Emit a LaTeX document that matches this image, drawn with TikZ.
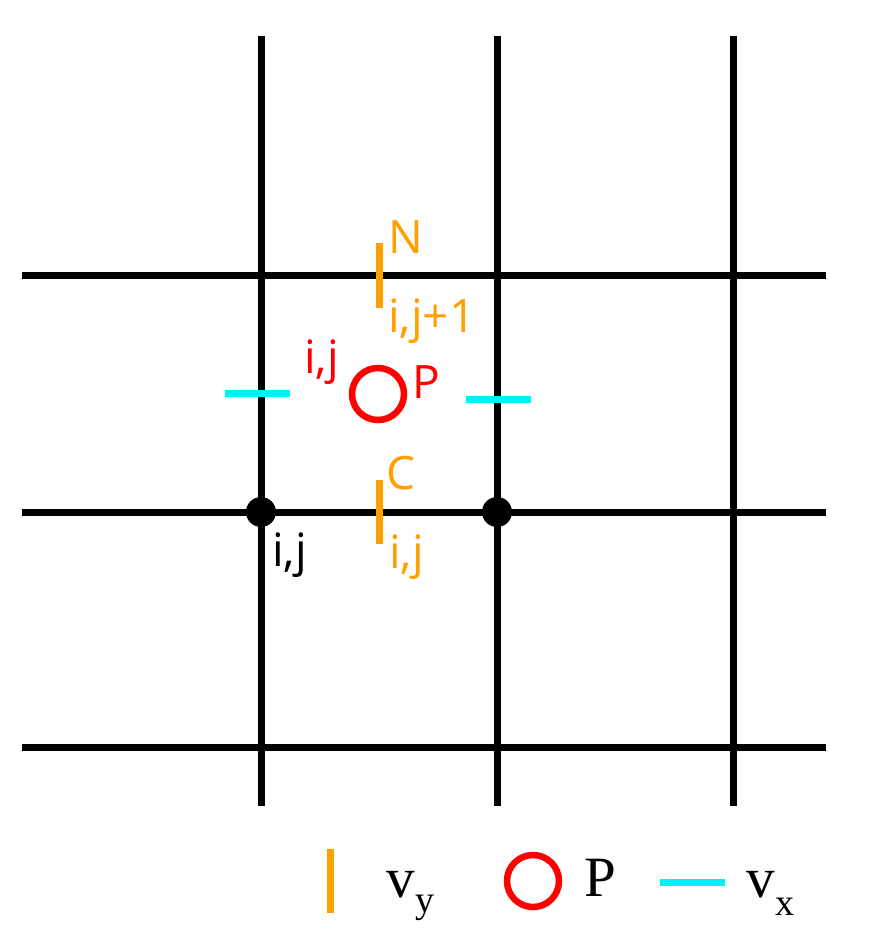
\documentclass[tikz,border=0pt]{standalone}
\usepackage{fontspec}
\setmainfont{Liberation Serif}
\newfontfamily\lab{Open Sans}
\definecolor{vyorange}{HTML}{FF9F00}
\definecolor{vxcyan}{HTML}{00F0F8}
\definecolor{pred}{HTML}{FF0000}
\begin{document}
\begin{tikzpicture}[x=1pt,y=-1pt,
  grid/.style={line width=7pt,black},
  vybar/.style={line width=7pt,vyorange},
  vxbar/.style={line width=7pt,vxcyan},
  pcirc/.style={circle,draw=pred,line width=6.5pt,minimum size=52pt,inner sep=0pt},
  lbl/.style={inner sep=0pt,font=\lab\fontsize{46}{52}\selectfont},
  leg/.style={inner sep=0pt,font=\fontsize{57}{62}\selectfont},
  legsub/.style={inner sep=0pt,font=\fontsize{38}{42}\selectfont}]
\useasboundingbox (0,0) rectangle (872,947);
% grid
\foreach \x in {261,497,733} \draw[grid] (\x,36) -- (\x,806);
\foreach \y in {275,512,747} \draw[grid] (22,\y) -- (826,\y);
% nodes (black dots)
\fill (261,512) circle (15);
\fill (497,512) circle (15);
\node[lbl,anchor=base west,black] (nij) at (272,566) {i,j};
% v_y N
\coordinate (n1) at (379,243); \coordinate (n2) at (379,308);
\draw[vybar] (n1) -- (n2);
\node[lbl,anchor=base west,text=vyorange] (Nt) at (388,253) {N};
\node[lbl,anchor=base west,text=vyorange] (Ns) at (388,332) {i,j+1};
% v_y C
\coordinate (c1) at (379,480); \coordinate (c2) at (379,544);
\draw[vybar] (c1) -- (c2);
\node[lbl,anchor=base west,text=vyorange] (Ct) at (386,489) {C};
\node[lbl,anchor=base west,text=vyorange] (Cs) at (389,568) {i,j};
% P
\node[pcirc] (P) at (378,394) {};
\node[lbl,anchor=base west,text=pred] (Pt) at (412,398) {P};
\node[lbl,anchor=base west,text=pred] (Ps) at (304,373) {i,j};
% v_x
\coordinate (w1) at (225,393); \coordinate (w2) at (290,393);
\draw[vxbar] (w1) -- (w2);
\coordinate (e1) at (466,399); \coordinate (e2) at (531,399);
\draw[vxbar] (e1) -- (e2);
% legend
\coordinate (l1) at (330,849); \coordinate (l2) at (330,913);
\draw[vybar] (l1) -- (l2);
\node[leg,anchor=base west] (lvy) at (386,897) {v};
\node[legsub,anchor=base west] (lvys) at (415,912) {y};
\node[pcirc] (lP) at (533,881) {};
\node[leg,anchor=base west] (lPt) at (584,896) {P};
\coordinate (x1) at (660,882); \coordinate (x2) at (725,882);
\draw[vxbar] (x1) -- (x2);
\node[leg,anchor=base west] (lvx) at (746,897) {v};
\node[legsub,anchor=base west] (lvxs) at (775,915) {x};
\end{tikzpicture}
\end{document}
